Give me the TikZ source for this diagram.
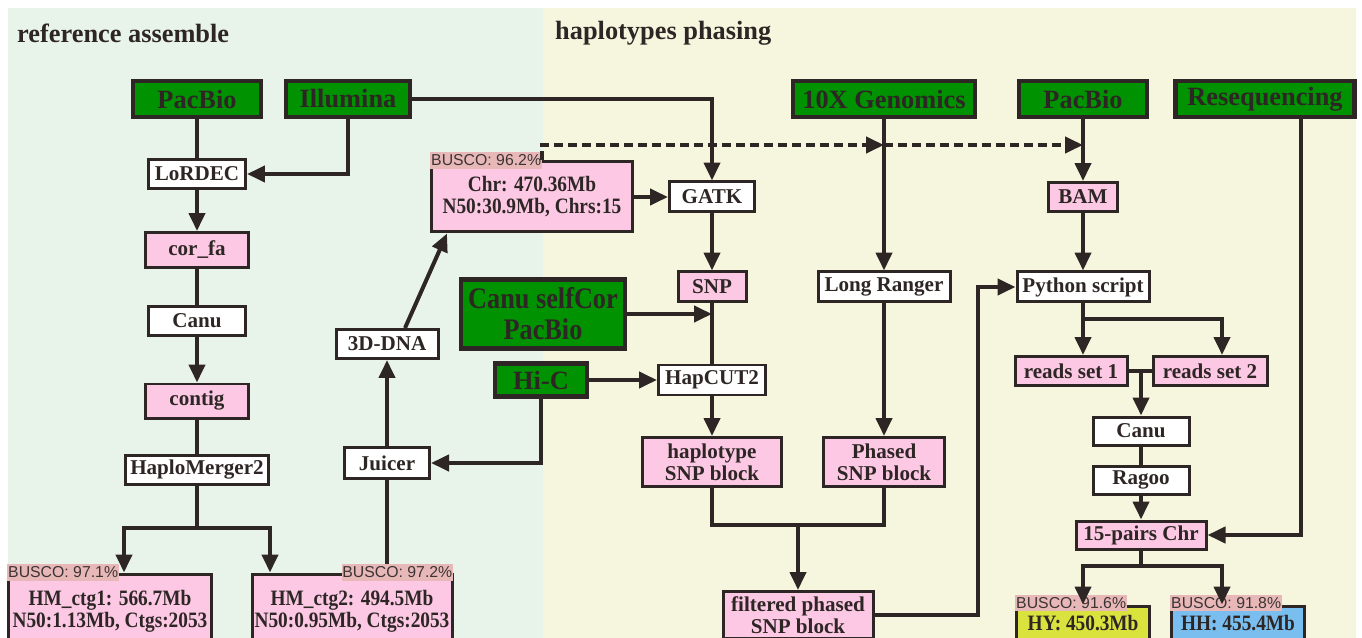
\documentclass[tikz,border=0pt]{standalone}
\usepackage{fontspec}
\setmainfont{Liberation Serif}
\setsansfont{Liberation Sans}
\newfontfamily\condfont{Liberation Serif}[FakeStretch=0.88]
\usetikzlibrary{arrows.meta}

\definecolor{asmbg}{RGB}{232,244,234}
\definecolor{phasebg}{RGB}{246,246,222}
\definecolor{seqgreen}{RGB}{0,146,0}
\definecolor{respink}{RGB}{252,200,228}
\definecolor{linec}{RGB}{45,38,36}
\definecolor{buscobg}{RGB}{232,184,184}
\definecolor{buscotxt}{RGB}{60,52,52}
\definecolor{hyfill}{RGB}{218,226,62}
\definecolor{hhfill}{RGB}{122,190,240}

\tikzset{
  wh/.style 2 args={minimum width=#1*0.02cm, minimum height=#2*0.02cm},
  box/.style={draw=linec, line width=0.06cm, inner sep=0pt, text=linec, align=center,
    font=\bfseries\fontsize{12}{12.5}\selectfont},
  rawdata/.style={box, fill=seqgreen, line width=0.09cm, font=\bfseries\fontsize{15}{17}\selectfont},
  tool/.style={box, fill=white},
  result/.style={box, fill=respink},
  numbox/.style={font=\condfont\bfseries\fontsize{12.5}{12.5}\selectfont},
  busco/.style={fill=buscobg, text=buscotxt, inner xsep=0.5pt, inner ysep=1.5pt,
    font=\sffamily\fontsize{9}{10}\selectfont},
  title/.style={anchor=west, text=linec, font=\bfseries\fontsize{15}{18}\selectfont},
  link/.style={draw=linec, line width=0.08cm},
  flow/.style={link, -{Triangle[length=0.36cm, width=0.32cm]}},
  dashline/.style={dash pattern=on 0.18cm off 0.1cm},
}

\begin{document}
\begin{tikzpicture}[x=0.02cm, y=-0.02cm]
%\draw [help lines, step=50] (0,0) grid (1362,638);
\useasboundingbox (0,0) rectangle (1362,638);
\fill [white] (0,0) rectangle (1362,638);
\fill [asmbg] (8,8) rectangle (543,638);
\fill [phasebg] (543,8) rectangle (1356,638);

\node [title] (asmtitle) at (11,33) {reference assemble};
\node [title] (phasetitle) at (549,33) {haplotypes phasing};

% reference assemble
\node [rawdata, wh={128}{36}] (pacbioA) at (197,99) {PacBio};
\node [rawdata, wh={124}{36}] (illumina) at (348,99) {Illumina};
\node [tool, wh={97}{29}] (lordec) at (197,174) {LoRDEC};
\node [result, wh={103}{35}] (corfa) at (197,250) {cor\_fa};
\node [tool, wh={97}{29}] (canuA) at (197,321) {Canu};
\node [result, wh={103}{34}] (contig) at (197,401) {contig};
\node [tool, wh={143}{29}] (hm2) at (197,470) {HaploMerger2};
\node [result, numbox, wh={203}{74}] (ctg1) at (110,611) {HM\_ctg1: 566.7Mb\\N50:1.13Mb, Ctgs:2053};
\node [result, numbox, wh={200}{74}] (ctg2) at (352,611) {HM\_ctg2: 494.5Mb\\N50:0.95Mb, Ctgs:2053};
\node [busco, anchor=west] (busco1) at (ctg1.north west) {BUSCO: 97.1\%};
\node [busco, anchor=east] (busco2) at (ctg2.north east) {BUSCO: 97.2\%};
\node [tool, wh={85}{31}] (juicer) at (387,463) {Juicer};
\node [tool, wh={102}{29}] (dna3d) at (387,344) {3D-DNA};
\node [result, numbox, wh={201}{70}] (chr) at (532,197) {Chr: 470.36Mb\\N50:30.9Mb, Chrs:15};
\node [busco, anchor=west] (busco3) at (chr.north west) {BUSCO: 96.2\%};

% haplotypes phasing
\node [rawdata, wh={182}{36}] (tenx) at (884,99) {10X Genomics};
\node [rawdata, wh={128}{36}] (pacbioB) at (1083,99) {PacBio};
\node [rawdata, wh={179}{36}] (reseq) at (1265,99) {Resequencing};
\node [rawdata, wh={164}{69}, font=\condfont\bfseries\fontsize{17}{17.5}\selectfont] (selfcor) at (543,314) {Canu selfCor\\PacBio};
\node [rawdata, wh={92}{33}] (hic) at (541,380) {Hi-C};
\node [tool, wh={85}{30}] (gatk) at (712,197) {GATK};
\node [result, wh={68}{30}] (snp) at (712,287) {SNP};
\node [tool, wh={107}{30}] (hapcut) at (712,380) {HapCUT2};
\node [result, wh={139}{49}] (haploblk) at (712,462) {haplotype\\SNP block};
\node [tool, wh={132}{30}] (longranger) at (884,287) {Long Ranger};
\node [result, wh={121}{49}] (phasedblk) at (884,462) {Phased\\SNP block};
\node [result, wh={150}{47}] (filtered) at (798,615) {filtered phased\\SNP block};
\node [result, wh={69}{29}] (bam) at (1083,197) {BAM};
\node [tool, wh={132}{30}] (python) at (1083,287) {Python script};
\node [result, wh={112}{29}] (reads1) at (1071,371) {reads set 1};
\node [result, wh={114}{29}] (reads2) at (1210,371) {reads set 2};
\node [tool, wh={96}{28}] (canuB) at (1141,431) {Canu};
\node [tool, wh={96}{28}] (ragoo) at (1141,480) {Ragoo};
\node [result, wh={130}{28}] (chr15) at (1141,535) {15-pairs Chr};
\node [box, numbox, fill=hyfill, wh={133}{34}] (hy) at (1083,623) {HY: 450.3Mb};
\node [box, numbox, fill=hhfill, wh={133}{34}] (hh) at (1238,623) {HH: 455.4Mb};
\node [busco, anchor=west] (busco4) at ([yshift=0.03cm]hy.north west) {BUSCO: 91.6\%};
\node [busco, anchor=west] (busco5) at ([yshift=0.03cm]hh.north west) {BUSCO: 91.8\%};

% connectors, left part
\draw [link] (pacbioA) -- (lordec);
\draw [flow] (illumina.south) |- (lordec.east);
\draw [flow] (lordec) -- (corfa);
\draw [link] (corfa) -- (canuA);
\draw [flow] (canuA) -- (contig);
\draw [link] (contig) -- (hm2);
\coordinate (hmsplit) at (197,528);
\draw [link] (hm2) -- (hmsplit);
\draw [flow] (hmsplit) -| (hm2.west |- ctg1.north);
\draw [flow] (hmsplit) -| (hm2.east |- ctg2.north);
\draw [link] (juicer |- busco2.north) -- (juicer);
\draw [flow] (juicer) -- (dna3d);
\draw [flow] ([xshift=0.36cm]dna3d.north) -- ([xshift=-1.7cm]chr.south);
\draw [flow] (hic.south) |- (juicer.east);
\draw [flow] (chr) -- (gatk);

% connectors, right part
\draw [flow] (illumina.east) -| (gatk.north);
\coordinate (tenxcut) at (884,145);
\coordinate (pbcut) at (1083,145);
\draw [flow, dashline] ([xshift=0.2cm]chr.north) |- (tenxcut);
\draw [flow, dashline] (tenxcut) -- (pbcut);
\draw [flow] (tenx) -- (longranger);
\draw [flow] (pacbioB) -- (bam);
\draw [flow] (gatk) -- (snp);
\draw [link] (snp) -- (hapcut);
\draw [flow] (selfcor.east) -- (selfcor.east -| snp.south);
\draw [flow] (hic) -- (hapcut);
\draw [flow] (hapcut) -- (haploblk);
\draw [flow] (longranger) -- (phasedblk);
\coordinate (blkjoin) at (798,525);
\draw [link] (haploblk.south) |- (blkjoin) -| (phasedblk.south);
\draw [flow] (blkjoin) -- (filtered);
\coordinate (loopx) at (978,616);
\draw [flow] (filtered.east) -- (filtered.east -| loopx) |- (python.west);
\draw [flow] (bam) -- (python);
\coordinate (pysplit) at (1083,319);
\draw [link] (python) -- (pysplit);
\draw [flow] (pysplit) -- (pysplit |- reads1.north);
\draw [flow] (pysplit) -| ([xshift=0.24cm]reads2.north);
\draw [link] (reads1) -- (reads2);
\draw [flow] (reads1.east -| canuB) -- (canuB);
\draw [link] (canuB) -- (ragoo);
\draw [flow] (ragoo) -- (chr15);
\draw [flow] ([xshift=0.72cm]reseq.south) |- (chr15.east);
\coordinate (chrsplit) at (1141,566);
\draw [link] (chr15) -- (chrsplit);
\draw [flow] (chrsplit) -| (hy.north);
\draw [flow] (chrsplit) -| ([xshift=-0.32cm]hh.north);
\end{tikzpicture}
\end{document}
